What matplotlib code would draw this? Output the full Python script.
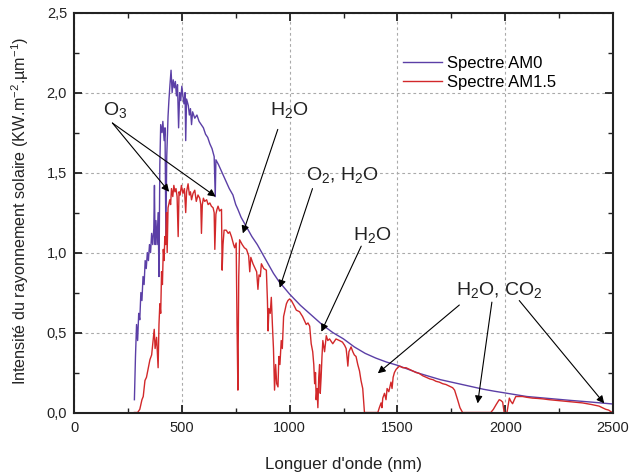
import matplotlib
matplotlib.use('Agg')
import matplotlib.pyplot as plt
from matplotlib.ticker import MultipleLocator, FuncFormatter

plt.rcParams['font.family'] = ['Liberation Sans', 'DejaVu Sans']
plt.rcParams['mathtext.fontset'] = 'custom'
plt.rcParams['mathtext.rm'] = 'Liberation Sans'
plt.rcParams['mathtext.it'] = 'Liberation Sans'

# Spectre AM0 (nm, kW.m-2.um-1)
am0_wl = [280, 285, 290, 295, 300, 305, 310, 315, 320, 325, 330, 335, 340, 345, 350, 355,
          360, 365, 370, 373, 376, 380, 385, 390, 394, 398, 402, 408, 412, 418, 422, 426,
          430, 436, 440, 445, 450, 455, 460, 465, 470, 475, 480, 485, 490, 495, 500, 505,
          510, 515, 518, 522, 530, 535, 540, 545, 550, 560, 570, 580, 590, 600, 610, 620,
          630, 640, 650, 655, 658, 670, 680, 690, 700, 710, 720, 737, 750, 760, 775, 800,
          825, 850, 875, 900, 925, 950, 975, 1000, 1050, 1100, 1150, 1200, 1250, 1300,
          1350, 1400, 1450, 1500, 1550, 1600, 1650, 1700, 1750, 1800, 1850, 1900, 1950,
          2000, 2100, 2200, 2300, 2400, 2500]
am0_val = [0.08, 0.35, 0.55, 0.45, 0.62, 0.58, 0.75, 0.70, 0.85, 0.80, 0.95, 0.90, 1.00, 0.95,
           1.05, 1.00, 1.12, 1.05, 1.15, 1.42, 1.05, 1.20, 1.05, 1.25, 0.85, 1.55, 1.80, 1.75,
           1.82, 1.70, 1.78, 1.10, 1.60, 1.85, 1.95, 2.05, 2.14, 2.00, 2.08, 2.03, 2.07, 1.98,
           2.05, 1.78, 2.00, 1.95, 2.04, 1.98, 1.93, 2.00, 1.70, 1.96, 1.92, 1.86, 1.90, 1.80,
           1.88, 1.84, 1.86, 1.82, 1.80, 1.78, 1.74, 1.72, 1.68, 1.65, 1.60, 1.35, 1.58, 1.55,
           1.52, 1.49, 1.46, 1.43, 1.40, 1.36, 1.30, 1.27, 1.22, 1.16, 1.10, 1.05, 0.99, 0.93,
           0.87, 0.82, 0.78, 0.74, 0.67, 0.61, 0.55, 0.50, 0.46, 0.41, 0.37, 0.34, 0.315,
           0.295, 0.27, 0.245, 0.225, 0.205, 0.19, 0.175, 0.16, 0.145, 0.133, 0.122, 0.10,
           0.088, 0.076, 0.065, 0.053]

# Spectre AM1.5
am15_wl = [280, 295, 305, 315, 321, 329, 336, 345, 352, 360, 367, 372, 376, 383, 390, 394,
           398, 402, 406, 410, 414, 418, 421, 425, 429, 432, 436, 444, 448, 452, 458, 463,
           468, 473, 478, 483, 487, 492, 498, 505, 512, 518, 522, 529, 535, 540, 545, 552,
           560, 567, 575, 583, 588, 591, 595, 600, 606, 615, 622, 630, 637, 645, 650, 653,
           658, 663, 668, 675, 684, 687, 691, 696, 706, 715, 722, 730, 740, 745, 752, 756,
           760, 764, 768, 780, 790, 800, 810, 815, 820, 830, 840, 847, 853, 858, 864, 869,
           880, 892, 897, 900, 904, 910, 915, 920, 925, 930, 935, 940, 946, 950, 955, 961,
           966, 972, 980, 985, 992, 1000, 1008, 1020, 1031, 1046, 1060, 1077, 1085, 1093,
           1100, 1107, 1112, 1116, 1120, 1123, 1127, 1131, 1135, 1139, 1142, 1146, 1150,
           1154, 1162, 1170, 1177, 1185, 1200, 1215, 1231, 1245, 1255, 1262, 1266, 1270,
           1275, 1285, 1293, 1300, 1308, 1316, 1324, 1331, 1339, 1344, 1347, 1409, 1416,
           1424, 1428, 1432, 1440, 1447, 1452, 1460, 1470, 1475, 1480, 1486, 1494, 1501,
           1510, 1525, 1540, 1555, 1571, 1586, 1600, 1617, 1633, 1650, 1665, 1679, 1694,
           1710, 1725, 1741, 1756, 1765, 1772, 1779, 1790, 1802, 1933, 1945, 1958, 1972,
           1980, 1988, 1992, 1995, 2008, 2013, 2019, 2026, 2034, 2042, 2049, 2060, 2080,
           2100, 2126, 2150, 2175, 2204, 2240, 2281, 2320, 2358, 2400, 2435, 2450, 2466,
           2480, 2490, 2500]
am15_val = [0.0, 0.0, 0.02, 0.08, 0.10, 0.20, 0.22, 0.28, 0.33, 0.36, 0.45, 0.52, 0.40, 0.47,
            0.28, 0.55, 0.68, 0.62, 0.88, 0.80, 1.02, 0.95, 1.10, 1.05, 1.25, 1.00, 1.28, 1.33,
            1.30, 1.40, 1.35, 1.42, 1.38, 1.40, 1.35, 1.10, 1.38, 1.36, 1.42, 1.37, 1.40, 1.25,
            1.38, 1.43, 1.36, 1.38, 1.33, 1.37, 1.39, 1.32, 1.36, 1.34, 1.30, 1.12, 1.30, 1.34,
            1.32, 1.33, 1.30, 1.31, 1.29, 1.28, 1.25, 1.02, 1.24, 1.27, 1.29, 1.26, 1.27, 0.89,
            1.05, 1.14, 1.14, 1.12, 1.13, 1.10, 1.05, 1.03, 1.06, 0.55, 0.14, 0.85, 1.08, 1.05,
            1.03, 1.02, 0.98, 0.88, 0.97, 0.93, 0.90, 0.88, 0.77, 0.86, 0.85, 0.93, 0.90, 0.89,
            0.70, 0.51, 0.65, 0.62, 0.72, 0.55, 0.40, 0.14, 0.30, 0.18, 0.16, 0.35, 0.30, 0.45,
            0.40, 0.60, 0.65, 0.68, 0.70, 0.71, 0.70, 0.67, 0.64, 0.63, 0.60, 0.55, 0.56, 0.54,
            0.43, 0.38, 0.30, 0.18, 0.25, 0.08, 0.15, 0.03, 0.22, 0.30, 0.12, 0.22, 0.35,
            0.45, 0.38, 0.48, 0.45, 0.46, 0.43, 0.46, 0.45, 0.44, 0.42, 0.40, 0.35, 0.29,
            0.38, 0.41, 0.38, 0.36, 0.35, 0.30, 0.26, 0.20, 0.15, 0.05, 0.0, 0.0, 0.03,
            0.06, 0.03, 0.09, 0.12, 0.08, 0.15, 0.13, 0.19, 0.15, 0.22, 0.25, 0.27, 0.28,
            0.29, 0.28, 0.28, 0.27, 0.26, 0.25, 0.245, 0.23, 0.22, 0.21, 0.205, 0.195, 0.19,
            0.18, 0.175, 0.165, 0.155, 0.14, 0.11, 0.08, 0.03, 0.0, 0.0, 0.02, 0.05, 0.08,
            0.075, 0.065, 0.03, 0.0, 0.0, 0.04, 0.09, 0.07, 0.055, 0.08, 0.10, 0.10, 0.10,
            0.095, 0.09, 0.088, 0.085, 0.08, 0.075, 0.07, 0.065, 0.06, 0.05, 0.04, 0.03, 0.02,
            0.015, 0.005, 0.0]

# labels of absorption bands: text, text pos, arrow start, arrow targets
bands = [
    ('O$_3$', (134, 1.86), (178, 1.81), [(441, 1.38), (657, 1.35)]),
    ('H$_2$O', (907, 1.86), (945, 1.77), [(783, 1.12)]),
    ('O$_2$, H$_2$O', (1077, 1.453), (1106, 1.40), [(954, 0.78)]),
    ('H$_2$O', (1293, 1.08), (1332, 1.04), [(1147, 0.505)]),
    ('H$_2$O, CO$_2$', (1772, 0.734), None, []),
]
co2_arrows = [((1787, 0.672), (1409, 0.245)),
              ((1938, 0.69), (1872, 0.057)),
              ((2065, 0.70), (2459, 0.057))]

fig = plt.figure(figsize=(6.3, 4.76), dpi=100)
ax = fig.add_axes([0.1175, 0.1334, 0.8556, 0.840])

ax.plot(am0_wl, am0_val, color='#5b3fa6', lw=1.0, label='Spectre AM0')
ax.plot(am15_wl, am15_val, color='#d2282a', lw=1.0, label='Spectre AM1.5')

ax.set_xlim(0, 2500)
ax.set_ylim(0, 2.5)
ax.xaxis.set_major_locator(MultipleLocator(500))
ax.xaxis.set_minor_locator(MultipleLocator(250))
ax.yaxis.set_major_locator(MultipleLocator(0.5))
ax.yaxis.set_minor_locator(MultipleLocator(0.25))
ax.yaxis.set_major_formatter(FuncFormatter(lambda v, p: ('%.1f' % v).replace('.', ',')))
ax.tick_params(which='both', direction='in', top=True, right=True, labelsize=10.5,
               color='#222222', labelcolor='#222222')
ax.tick_params(which='major', length=6, width=1.3)
ax.tick_params(which='minor', length=3.5, width=1.0)
ax.tick_params(axis='y', pad=5)
ax.tick_params(axis='x', pad=6)
for s in ax.spines.values():
    s.set_linewidth(1.5)
    s.set_color('#222222')

ax.grid(True, which='major', color='#aaaaaa', linestyle=(0, (2.5, 2.5)), lw=0.8)
ax.set_axisbelow(True)

ax.set_xlabel("Longuer d'onde (nm)", fontsize=12.2, color='#222222')
ax.set_ylabel('Intensité du rayonnement solaire (KW.m$^{-2}$.µm$^{-1}$)', fontsize=11.6,
              color='#222222')
ax.xaxis.set_label_coords(0.5, -0.112)
ax.yaxis.set_label_coords(-0.080, 0.505)

leg = ax.legend(loc='upper left', bbox_to_anchor=(0.5826, 0.930), frameon=False, fontsize=12,
                handlelength=2.32, handletextpad=0.3, labelspacing=0.28)

arrow = dict(arrowstyle='-|>', color='black', lw=0.8, mutation_scale=11, shrinkA=0, shrinkB=0)
for txt, tpos, start, targets in bands:
    ax.text(tpos[0], tpos[1], txt, fontsize=14, ha='left', va='baseline', color='#222222')
    for t in targets:
        ax.annotate('', xy=t, xytext=start, arrowprops=arrow)
for start, t in co2_arrows:
    ax.annotate('', xy=t, xytext=start, arrowprops=arrow)

fig.savefig('out.png', dpi=100)
